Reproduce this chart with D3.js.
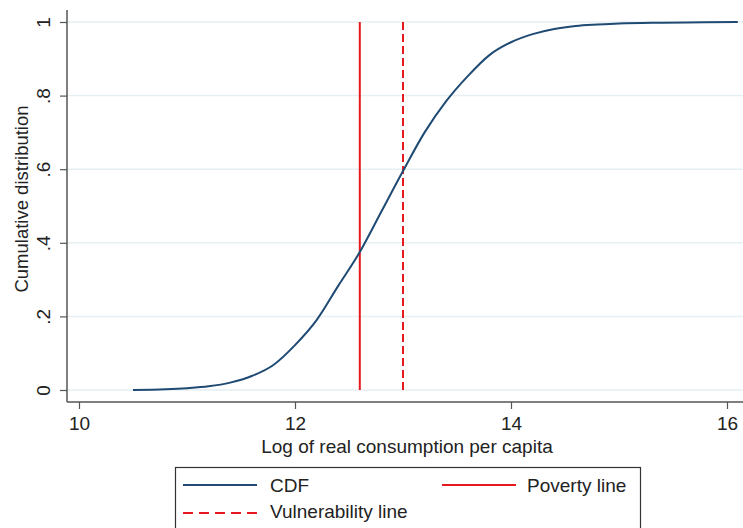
<!DOCTYPE html>
<html>
<head>
<meta charset="utf-8">
<script src="https://cdn.jsdelivr.net/npm/d3@7"></script>
<style>
html,body{margin:0;padding:0;background:#fff;}
svg{display:block;}
text{font-family:"Liberation Sans",Arial,sans-serif;fill:#222;}
</style>
</head>
<body>
<div id="chart"></div>
<script>
// Data
const cdfX = [10.5, 10.8, 11.0, 11.2, 11.4, 11.6, 11.8, 12.0, 12.2, 12.4, 12.6, 12.8, 13.0, 13.2, 13.4, 13.6, 13.8, 14.0, 14.2, 14.4, 14.6, 14.8, 15.0, 15.4, 15.8, 16.1];
const cdfY = [0, 0.002, 0.005, 0.010, 0.020, 0.038, 0.068, 0.122, 0.190, 0.283, 0.375, 0.485, 0.595, 0.700, 0.785, 0.853, 0.910, 0.945, 0.967, 0.981, 0.989, 0.993, 0.996, 0.998, 0.999, 1.0];
const povertyLine = 12.6;
const vulnerabilityLine = 13.0;
const xTicks = [10, 12, 14, 16];
const yTicks = [0, 0.2, 0.4, 0.6, 0.8, 1];
const yTickLabels = ["0", ".2", ".4", ".6", ".8", "1"];
const legendLabels = ["CDF", "Poverty line", "Vulnerability line"];

const W = 743, H = 528;
const navy = "#1f4a73", red = "#e8191e";

const svg = d3.select("#chart").append("svg").attr("width", W).attr("height", H);

const x = d3.scaleLinear().domain([10, 16]).range([79, 727]);
const y = d3.scaleLinear().domain([0, 1]).range([390, 22]);
const plotLeft = 67, plotRight = 743, plotTop = 10, plotBottom = 402;

// gridlines
svg.append("g").selectAll("line").data(yTicks).join("line")
  .attr("x1", plotLeft).attr("x2", plotRight)
  .attr("y1", d => y(d)).attr("y2", d => y(d))
  .attr("stroke", "#e6eff1").attr("stroke-width", 1.5);

// y axis
const yAxis = svg.append("g").attr("transform", `translate(${plotLeft},0)`)
  .call(d3.axisLeft(y).tickValues(yTicks).tickSize(7).tickFormat((d,i) => yTickLabels[i]));
yAxis.select(".domain").attr("d", `M0,${plotTop}V${plotBottom}`).attr("stroke", "#555").attr("stroke-width", 1.5);
yAxis.selectAll(".tick line").attr("stroke", "#555").attr("stroke-width", 1.2);
yAxis.selectAll(".tick text")
  .attr("font-size", 19).attr("fill", "#222")
  .attr("text-anchor", "middle")
  .attr("transform", "rotate(-90)")
  .attr("x", 0).attr("y", -17).attr("dy", 0);

// x axis
const xAxis = svg.append("g").attr("transform", `translate(0,${plotBottom})`)
  .call(d3.axisBottom(x).tickValues(xTicks).tickSize(7).tickFormat(d3.format("d")));
xAxis.select(".domain").attr("d", `M${plotLeft},0H${plotRight}`).attr("stroke", "#555").attr("stroke-width", 1.5);
xAxis.selectAll(".tick line").attr("stroke", "#555").attr("stroke-width", 1.2);
xAxis.selectAll(".tick text").attr("font-size", 19).attr("fill", "#222").attr("y", 28).attr("dy", 0);

// axis titles
svg.append("text").attr("x", 407).attr("y", 453).attr("text-anchor", "middle")
  .attr("font-size", 19).text("Log of real consumption per capita");
svg.append("text").attr("transform", `translate(28,199) rotate(-90)`)
  .attr("text-anchor", "middle").attr("font-size", 18.5).text("Cumulative distribution");

// reference lines
svg.append("line").attr("x1", x(povertyLine)).attr("x2", x(povertyLine))
  .attr("y1", y(1)).attr("y2", y(0)).attr("stroke", red).attr("stroke-width", 2);
svg.append("line").attr("x1", x(vulnerabilityLine)).attr("x2", x(vulnerabilityLine))
  .attr("y1", y(1)).attr("y2", y(0)).attr("stroke", red).attr("stroke-width", 2)
  .attr("stroke-dasharray", "8,4");

// CDF line
const data = cdfX.map((d, i) => [d, cdfY[i]]);
svg.append("path").datum(data)
  .attr("fill", "none").attr("stroke", navy).attr("stroke-width", 2)
  .attr("d", d3.line().x(d => x(d[0])).y(d => y(d[1])).curve(d3.curveMonotoneX));

// legend
const lg = svg.append("g");
lg.append("rect").attr("x", 175.5).attr("y", 467.5).attr("width", 465).attr("height", 80)
  .attr("fill", "#fff").attr("stroke", "#333").attr("stroke-width", 1.2);
const items = [
  {lx: 183, ly: 485, tx: 270, ty: 492, color: navy, dash: null},
  {lx: 442, ly: 485, tx: 527, ty: 492, color: red, dash: null},
  {lx: 183, ly: 513, tx: 270, ty: 518, color: red, dash: "10,6"}
];
items.forEach((it, i) => {
  lg.append("line").attr("x1", it.lx).attr("x2", it.lx + 74)
    .attr("y1", it.ly).attr("y2", it.ly)
    .attr("stroke", it.color).attr("stroke-width", 2)
    .attr("stroke-dasharray", it.dash);
  lg.append("text").attr("x", it.tx).attr("y", it.ty)
    .attr("font-size", 19).text(legendLabels[i]);
});
</script>
</body>
</html>
